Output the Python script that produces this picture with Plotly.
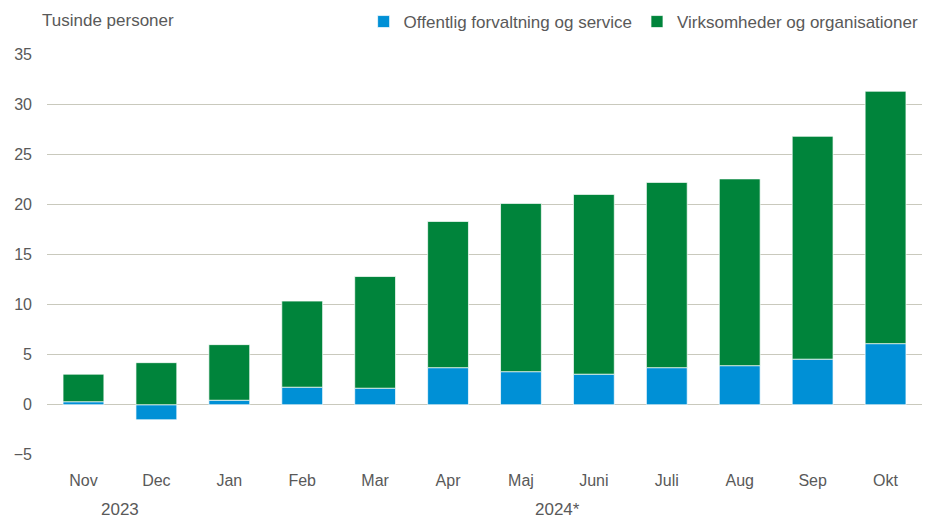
import plotly.graph_objects as go

months = ["Nov", "Dec", "Jan", "Feb", "Mar", "Apr", "Maj", "Juni", "Juli", "Aug", "Sep", "Okt"]
offentlig = [0.3, -1.5, 0.45, 1.75, 1.65, 3.7, 3.3, 3.05, 3.7, 3.9, 4.55, 6.1]
virksomheder = [2.75, 4.2, 5.55, 8.6, 11.15, 14.6, 16.8, 17.95, 18.5, 18.65, 22.25, 25.2]
year_labels = ["2023", "2024*"]
year_positions = [0.5, 6.5]
y_ticks = [-5, 0, 5, 10, 15, 20, 25, 30, 35]

FONT = "Liberation Sans Narrow, Arial Narrow, Liberation Sans, Arial, sans-serif"
TXT = "#595959"
GRID = "#c9c9bd"

# the page body adds an 8px offset, so the figure is 8px smaller and shifted margins compensate
W, H = 923, 511

fig = go.Figure()
fig.add_trace(go.Bar(x=months, y=offentlig, name="Offentlig forvaltning og service",
                     marker=dict(color="#0090d6", line=dict(color="rgba(255,255,255,0.7)", width=1))))
fig.add_trace(go.Bar(x=months, y=virksomheder, name="Virksomheder og organisationer",
                     marker=dict(color="#00843b", line=dict(color="rgba(255,255,255,0.7)", width=1))))

for lab, pos in zip(year_labels, year_positions):
    fig.add_annotation(x=pos, y=0, xref="x", yref="paper", yshift=-54, text=lab,
                       showarrow=False, font=dict(size=17, color=TXT, family=FONT),
                       xanchor="center", yanchor="middle")

fig.add_annotation(x=-0.008, y=1.0, xref="paper", yref="paper", yshift=34, text="Tusinde personer",
                   showarrow=False, font=dict(size=17, color=TXT, family=FONT),
                   xanchor="left", yanchor="middle")

fig.update_layout(
    width=W, height=H,
    barmode="relative",
    bargap=0.44,
    plot_bgcolor="white", paper_bgcolor="white",
    margin=dict(l=39, r=9, t=46, b=64, autoexpand=False),
    font=dict(family=FONT, size=16, color=TXT),
    legend=dict(orientation="h", x=0.992, xanchor="right", xref="container",
                y=1 - 14 / H, yanchor="middle", yref="container",
                font=dict(size=17, color=TXT, family=FONT),
                tracegroupgap=0, bgcolor="rgba(0,0,0,0)"),
    showlegend=True,
)
fig.update_xaxes(showgrid=False, showline=False, ticks="", ticklabelstandoff=14, automargin=False,
                 tickfont=dict(size=16, color=TXT, family=FONT))
fig.update_yaxes(range=[-5.02, 35.02], tickvals=y_ticks, showgrid=True, gridcolor=GRID, gridwidth=1.3,
                 zeroline=True, zerolinecolor=GRID, zerolinewidth=1.3, showline=False, automargin=False,
                 ticks="", ticklabelstandoff=14, tickfont=dict(size=16, color=TXT, family=FONT))

fig.write_html("out.html")
